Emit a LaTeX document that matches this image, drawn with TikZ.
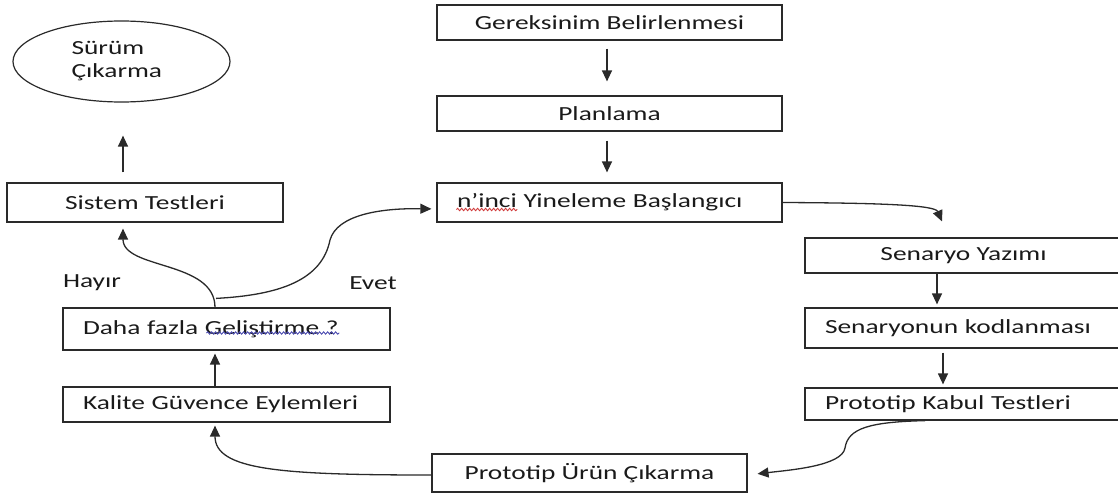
\documentclass[tikz,border=0pt]{standalone}
\usepackage{fontspec}
\setmainfont{Carlito}[FakeStretch=1.37]
\usetikzlibrary{shapes.geometric,arrows.meta,decorations.pathmorphing,calc}

\definecolor{ink}{HTML}{1A1A1A}
\definecolor{edge}{HTML}{2A2A2A}
\definecolor{spellred}{HTML}{D03A3A}
\definecolor{spellblue}{HTML}{4A4AB0}

\tikzset{
  x=1pt, y=-1pt,
  every node/.style={font=\fontsize{20}{23}\selectfont, text=ink},
  cbox/.style={draw=edge, line width=1.2pt, rectangle, inner sep=0pt, align=center},
  lbox/.style={draw=edge, line width=1.2pt, rectangle, inner ysep=0pt, inner xsep=20pt, align=left},
  tag/.style={inner sep=0pt},
  arr/.style={draw=edge, line width=1.3pt, -{Triangle[width=10pt,length=11pt]}},
  squig/.style={line width=0.9pt, decorate, decoration={snake, amplitude=1.2pt, segment length=4pt}},
}

\begin{document}
\begin{tikzpicture}
\useasboundingbox (0,0) rectangle (1118,495);

% main column
\node[cbox, minimum width=345pt, minimum height=35pt] (ger)  at (609.5,22.5)  {Gereksinim Belirlenmesi};
\node[cbox, minimum width=345pt, minimum height=35pt] (plan) at (609.5,113.5) {Planlama};
\node[lbox, text width=305pt, minimum height=39pt]    (nth)  at (609.5,202.5) {\mbox{n’inci Yineleme Başlangıcı}};

% right column (runs past the right edge of the page)
\node[cbox, minimum width=317pt, minimum height=35pt] (sen)  at (963.5,255.5) {Senaryo Yazımı};
\node[lbox, text width=277pt, minimum height=40pt]    (kod)  at (963.5,328)   {\mbox{Senaryonun kodlanması}};
\node[lbox, text width=277pt, minimum height=32pt]    (kab)  at (963.5,404)   {\mbox{Prototip Kabul Testleri}};

% bottom
\node[cbox, minimum width=315pt, minimum height=38pt] (urun) at (589.5,473)   {Prototip Ürün Çıkarma};

% left column
\node[lbox, text width=287pt, minimum height=35pt]    (kal)  at (226.5,404.5) {\mbox{Kalite Güvence Eylemleri}};
\node[lbox, text width=287pt, minimum height=42pt]    (daha) at (226.5,329)   {\mbox{Daha fazla Geliştirme ?}};
\node[cbox, minimum width=276pt, minimum height=39pt] (sys)  at (145,202.5)   {Sistem Testleri};
\node[draw=edge, line width=1.2pt, ellipse, minimum width=217pt, minimum height=81pt,
      inner sep=0pt, text width=100pt, align=left] (rel) at (121.5,61.5) {Sürüm\\Çıkarma};

% decision labels
\node[tag] (hayir) at (92,283)  {Hayır};
\node[tag] (evet)  at (373,283) {Evet};

% spell-check underlines
\draw[squig, spellred]  ($(nth.west)+(20,7)$)   -- ($(nth.west)+(81,7)$);
\draw[squig, spellblue] ($(daha.west)+(144,4)$) -- ($(daha.west)+(277,4)$);

% straight connectors
\draw[arr, shorten <=8pt, shorten >=14pt] ([xshift=-2.5pt]ger.south)  -- ([xshift=-2.5pt]plan.north);
\draw[arr, shorten <=9pt, shorten >=10pt] ([xshift=-2.5pt]plan.south) -- ([xshift=-2.5pt]nth.north);
\draw[arr, shorten >=3pt]                 ([xshift=-26.5pt]sen.south) -- ([xshift=-26.5pt]kod.north);
\draw[arr, shorten <=4pt, shorten >=3pt]  ([xshift=-20.5pt]kod.south) -- ([xshift=-20.5pt]kab.north);
\draw[arr, shorten >=3pt]                 ([xshift=-11.5pt]kal.north) -- ([xshift=-11.5pt]daha.south);
\draw[arr, shorten <=10pt, shorten >=33pt]([xshift=-22pt]sys.north)   -- ([xshift=1.5pt]rel.south);

% curved connectors
\draw[arr] (nth.east) .. controls (880,203) and (935,205) .. ([xshift=-21.5pt,yshift=16pt]sen.north);
\draw[arr, shorten >=10pt] ([xshift=-38.5pt]kab.south)
  .. controls (870,422) and (848,428) .. (845,448)
  .. controls (842,466) and (790,470) .. ([yshift=-2pt]urun.east);
\draw[arr, shorten >=3pt] ([yshift=-2pt]urun.west)
  .. controls (280,475) and (215,470) .. ([xshift=-11.5pt]kal.south);
\draw[arr, shorten >=6pt] ([xshift=-11.5pt]daha.north)
  .. controls +(0,-47) and +(0,47) .. ([xshift=-22pt]sys.south);
\draw[arr, shorten >=5pt] ([xshift=-10.5pt,yshift=9pt]daha.north)
  .. controls (280,295) and (322,280) .. (330,240)
  .. controls (337,215) and (380,208) .. ([yshift=-6.5pt]nth.west);
\end{tikzpicture}
\end{document}
